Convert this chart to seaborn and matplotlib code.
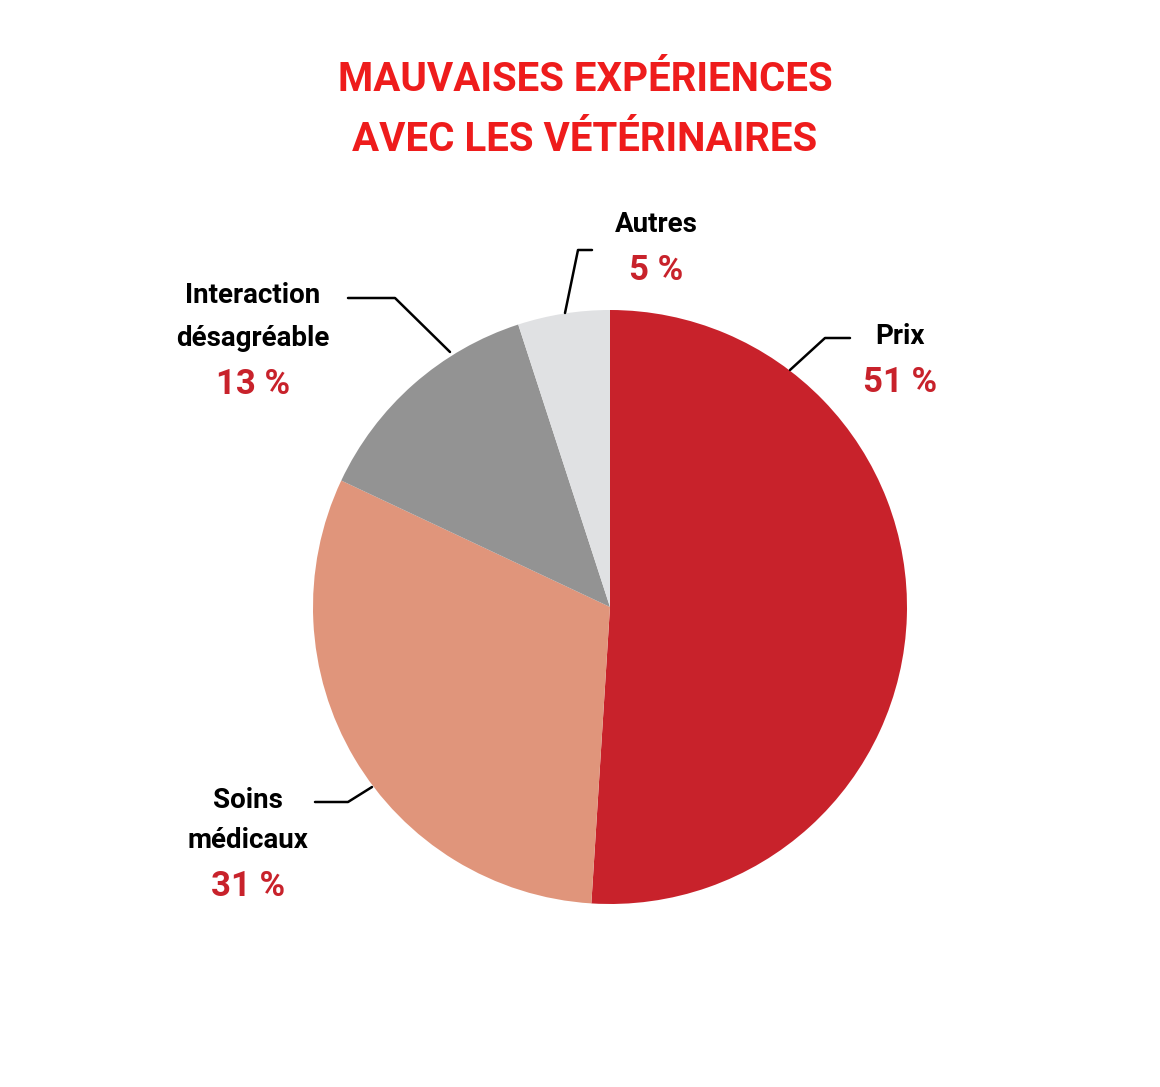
import matplotlib
matplotlib.use("Agg")
import matplotlib.pyplot as plt
import seaborn as sns
from matplotlib.lines import Line2D

sns.set_theme(style="white")
plt.rcParams['font.family'] = ['Roboto', 'DejaVu Sans']

categories = ["Prix", "Soins\nmédicaux", "Interaction\ndésagréable", "Autres"]
values = [51, 31, 13, 5]
pct_labels = ["51 %", "31 %", "13 %", "5 %"]
colors = ["#C8222B", "#E0957B", "#939393", "#E0E1E3"]

W, H = 1160, 1087
fig = plt.figure(figsize=(W/100, H/100), dpi=100)
fig.patch.set_facecolor("white")

cx, cy, r = 610, 607, 297
ax = fig.add_axes([(cx-r)/W, (H-cy-r)/H, 2*r/W, 2*r/H])
ax.pie(values, colors=colors, startangle=90, counterclock=False,
       wedgeprops=dict(linewidth=0))
ax.set_aspect('equal')
ax.set_xlim(-1, 1); ax.set_ylim(-1, 1)
ax.axis('off')

def fx(x): return x / W
def fy(y): return 1 - y / H

fig.text(fx(585), fy(80), "MAUVAISES EXPÉRIENCES", ha='center', va='center',
         color="#EE1C1C", fontsize=29, fontweight='bold')
fig.text(fx(585), fy(140), "AVEC LES VÉTÉRINAIRES", ha='center', va='center',
         color="#EE1C1C", fontsize=29, fontweight='bold')

# label positions (name center, pct center) and leader line points
label_specs = [
    (900, [337], 383, [(790, 370), (825, 338), (850, 338)]),
    (248, [800, 841], 887, [(372, 787), (348, 802), (315, 802)]),
    (253, [296, 338], 384, [(450, 352), (395, 298), (348, 298)]),
    (656, [224], 270, [(565, 313), (578, 250), (592, 250)]),
]
for cat, pct, (x, ys, yp, pts) in zip(categories, pct_labels, label_specs):
    for line, y in zip(cat.split("\n"), ys):
        fig.text(fx(x), fy(y), line, ha='center', va='center',
                 color='black', fontsize=20, fontweight='bold')
    fig.text(fx(x), fy(yp), pct, ha='center', va='center',
             color="#C8222B", fontsize=25, fontweight='bold')
    fig.add_artist(Line2D([fx(p[0]) for p in pts], [fy(p[1]) for p in pts],
                          color='black', linewidth=1.8, transform=fig.transFigure))

fig.savefig("out.png", dpi=100, facecolor="white")
